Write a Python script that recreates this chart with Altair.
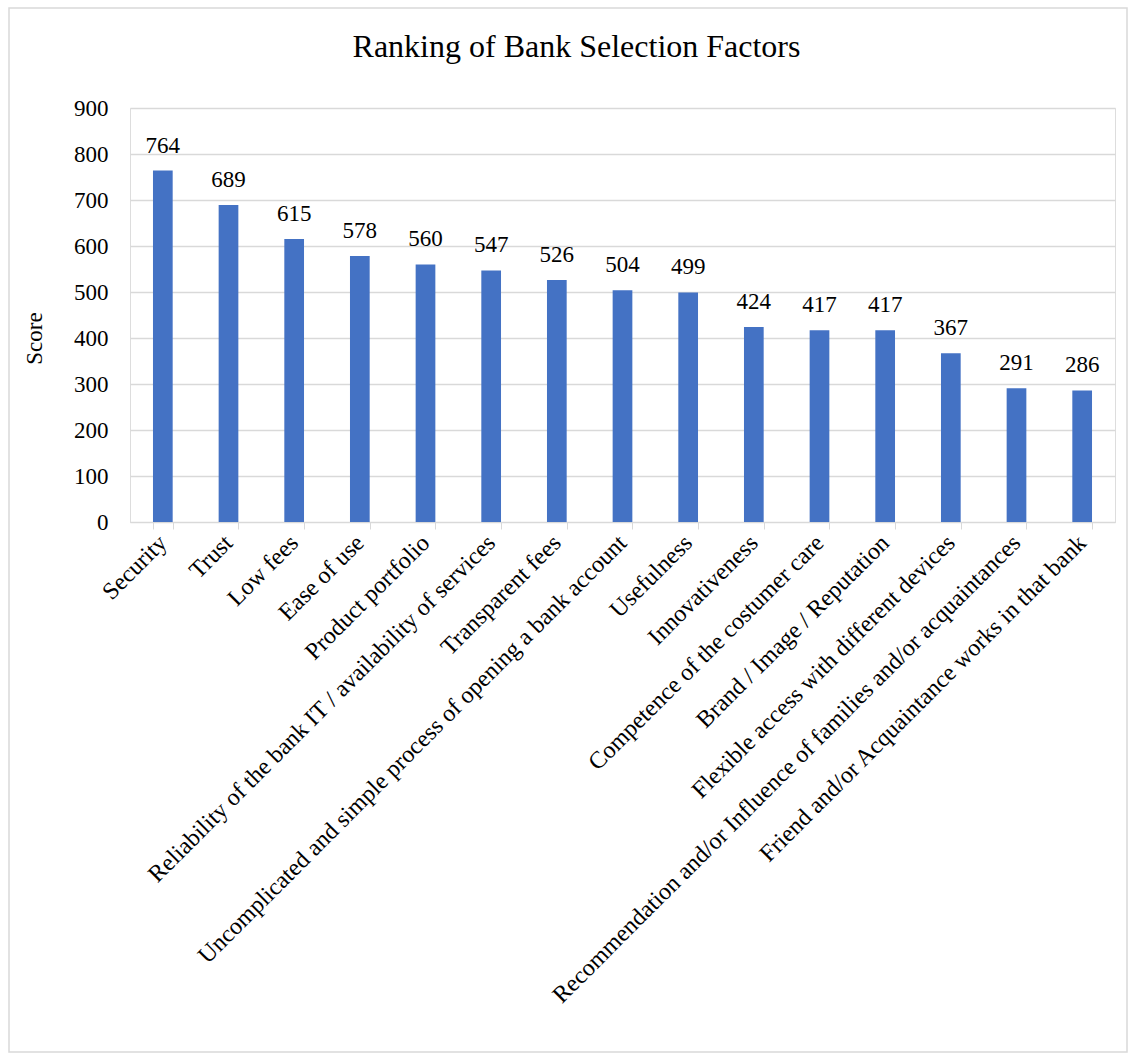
import altair as alt
import pandas as pd

factors = [
    "Security", "Trust", "Low fees", "Ease of use", "Product portfolio",
    "Reliability of the bank IT / availability of services", "Transparent fees",
    "Uncomplicated and simple process of opening a bank account", "Usefulness",
    "Innovativeness", "Competence of the costumer care", "Brand / Image / Reputation",
    "Flexible access with different devices",
    "Recommendation and/or Influence of families and/or acquaintances",
    "Friend and/or Acquaintance works in that bank",
]
scores = [764, 689, 615, 578, 560, 547, 526, 504, 499, 424, 417, 417, 367, 291, 286]

df = pd.DataFrame({"Factor": factors, "Score": scores})
FONT = "Liberation Serif, Times New Roman, serif"

base = alt.Chart(df).encode(
    x=alt.X("Factor:N", sort=None, title=None,
            scale=alt.Scale(paddingInner=0.7, paddingOuter=0.35),
            axis=alt.Axis(labelAngle=-45, labelAlign="right", labelBaseline="middle",
                          labelFontSize=24, labelFont=FONT, labelColor="#000000",
                          labelPadding=10, labelLimit=1000, tickBand="extent",
                          domainColor="#d9d9d9", tickColor="#d9d9d9", tickSize=7,
                          grid=False)),
    y=alt.Y("Score:Q", title="Score",
            scale=alt.Scale(domain=[0, 900], nice=False),
            axis=alt.Axis(values=list(range(0, 901, 100)), domain=False, ticks=False,
                          gridColor="#d9d9d9", gridWidth=1.5, labelFontSize=23,
                          labelFont=FONT, labelColor="#000000", labelPadding=22,
                          titleFont=FONT, titleFontSize=23, titleFontWeight="normal",
                          titleColor="#000000", titleX=-84, titleY=230)),
)

bars = base.mark_bar(color="#4472C4")
labels = base.mark_text(font=FONT, fontSize=23, color="#000000", baseline="alphabetic",
                        dy=-18).encode(text="Score:Q")

border = alt.Chart(pd.DataFrame({"a": [0]})).mark_rect(
    fill=None, stroke="#d9d9d9", strokeWidth=1.5, clip=False
).encode(x=alt.value(-121), x2=alt.value(997), y=alt.value(-100), y2=alt.value(944))

chart = alt.layer(border, bars, labels).properties(
    width=985, height=414,
    title=alt.TitleParams("Ranking of Bank Selection Factors", font=FONT, fontSize=32,
                          fontWeight="normal", color="#000000", anchor="middle",
                          baseline="alphabetic", dx=-46, dy=82, offset=0),
    autosize=alt.AutoSizeParams(type="none"),
    padding={"left": 130, "top": 108, "right": 19, "bottom": 537},
).configure_view(stroke=None).configure(background="white", font=FONT)

chart.save("out.html", embed_options={"renderer": "svg", "actions": False})
